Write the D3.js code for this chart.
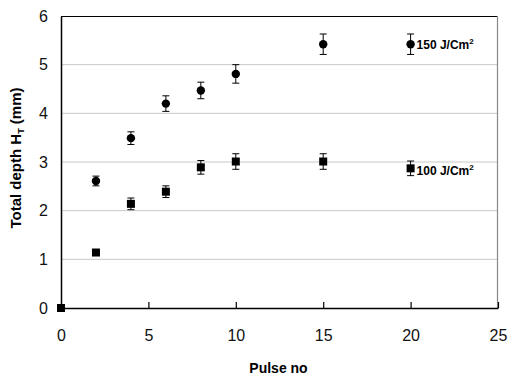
<!DOCTYPE html>
<html>
<head>
<meta charset="utf-8">
<script src="https://cdn.jsdelivr.net/npm/d3@7"></script>
<style>
  body { margin: 0; background: #fff; }
  text { font-family: "Liberation Sans", Arial, sans-serif; }
</style>
</head>
<body>
<script>
// data
var pulses150 = [2, 4, 6, 8, 10, 15, 20];
var depth150 = [2.61, 3.49, 4.20, 4.47, 4.81, 5.42, 5.42];
var err150 = [0.10, 0.13, 0.16, 0.17, 0.19, 0.21, 0.21];

var pulses100 = [0, 2, 4, 6, 8, 10, 15, 20];
var depth100 = [0, 1.14, 2.14, 2.39, 2.89, 3.01, 3.01, 2.87];
var err100 = [0, 0.03, 0.12, 0.12, 0.14, 0.16, 0.16, 0.15];

var xTicks = [0, 5, 10, 15, 20, 25];
var yTicks = [0, 1, 2, 3, 4, 5, 6];
var seriesLabels = ["150 J/Cm", "100 J/Cm"];

// set the dimensions and margins of the graph
var margin = {top: 16, right: 11, bottom: 68, left: 61},
    width = 509 - margin.left - margin.right,
    height = 376 - margin.top - margin.bottom;

var x = d3.scaleLinear().domain([0, 25]).range([0, width]);
var y = d3.scaleLinear().domain([0, 6]).range([height, 0]);

var svg = d3.select('body')
    .append('svg')
    .attr('width', 509)
    .attr('height', 376)
    .append('g')
    .attr('transform', 'translate(' + margin.left + ',' + margin.top + ')');

// gridlines
svg.selectAll('.grid')
    .data(yTicks.filter(function(d) { return d > 0 && d < 6; }))
    .enter().append('line')
    .attr('x1', 0).attr('x2', width)
    .attr('y1', function(d) { return y(d); })
    .attr('y2', function(d) { return y(d); })
    .attr('stroke', '#c8c8c8')
    .attr('stroke-width', 1);

// frame: top black, right gray
svg.append('line').attr('x1', 0).attr('x2', width).attr('y1', 0.5).attr('y2', 0.5)
    .attr('stroke', '#000').attr('stroke-width', 1.2);
svg.append('line').attr('x1', width - 0.5).attr('x2', width - 0.5).attr('y1', 0).attr('y2', height)
    .attr('stroke', '#888').attr('stroke-width', 1.2);

// x axis, ticks pointing inward
var xAxis = svg.append('g')
    .attr('transform', 'translate(0,' + height + ')')
    .call(d3.axisBottom(x).tickValues(xTicks).tickSizeInner(-6).tickSizeOuter(0).tickPadding(22));
xAxis.select('.domain').attr('stroke', '#000').attr('stroke-width', 1.5);
xAxis.selectAll('.tick line').attr('stroke', '#000').attr('stroke-width', 1.2)
    .filter(function(d) { return d === 0; }).remove();
xAxis.selectAll('text').style('font-size', '16px').attr('fill', '#111');

// y axis, no tick marks
var yAxis = svg.append('g')
    .call(d3.axisLeft(y).tickValues(yTicks).tickFormat(d3.format('d')).tickSize(0).tickPadding(13));
yAxis.select('.domain').attr('stroke', '#000').attr('stroke-width', 1.5);
yAxis.selectAll('text').style('font-size', '16px').attr('fill', '#111');

// error bars + markers
function drawSeries(xs, ys, es, shape) {
    var pts = xs.map(function(d, i) { return {x: d, y: ys[i], e: es[i]}; });
    var g = svg.append('g');
    var eb = g.selectAll('.eb').data(pts.filter(function(d) { return d.e > 0; })).enter().append('g');
    eb.append('line')
        .attr('x1', function(d) { return x(d.x); }).attr('x2', function(d) { return x(d.x); })
        .attr('y1', function(d) { return y(d.y - d.e); }).attr('y2', function(d) { return y(d.y + d.e); })
        .attr('stroke', '#000').attr('stroke-width', 1);
    [-1, 1].forEach(function(s) {
        eb.append('line')
            .attr('x1', function(d) { return x(d.x) - 3.5; }).attr('x2', function(d) { return x(d.x) + 3.5; })
            .attr('y1', function(d) { return y(d.y + s * d.e); }).attr('y2', function(d) { return y(d.y + s * d.e); })
            .attr('stroke', '#000').attr('stroke-width', 1);
    });
    if (shape === 'circle') {
        g.selectAll('.pt').data(pts).enter().append('circle')
            .attr('cx', function(d) { return x(d.x); })
            .attr('cy', function(d) { return y(d.y); })
            .attr('r', 4.2)
            .attr('fill', '#000');
    } else {
        g.selectAll('.pt').data(pts).enter().append('rect')
            .attr('x', function(d) { return x(d.x) - 4; })
            .attr('y', function(d) { return y(d.y) - 4; })
            .attr('width', 8).attr('height', 8)
            .attr('fill', '#000');
    }
}
drawSeries(pulses150, depth150, err150, 'circle');
drawSeries(pulses100, depth100, err100, 'square');

// series labels next to last point
var labelY = [depth150[depth150.length - 1], depth100[depth100.length - 1] - 0.05];
seriesLabels.forEach(function(lab, i) {
    var t = svg.append('text')
        .attr('x', x(20) + 6)
        .attr('y', y(labelY[i]) + 4.5)
        .style('font-size', '12px')
        .style('font-weight', 'bold')
        .text(lab);
    t.append('tspan').attr('dy', -5).style('font-size', '8px').text('2');
});

// axis titles
svg.append('text')
    .attr('x', width / 2 - 1)
    .attr('y', height + 65)
    .attr('text-anchor', 'middle')
    .style('font-size', '14px')
    .style('font-weight', 'bold')
    .text('Pulse no');

var yt = svg.append('text')
    .attr('transform', 'rotate(-90)')
    .attr('x', -height / 2 + 4)
    .attr('y', -40)
    .attr('text-anchor', 'middle')
    .style('font-size', '15px')
    .style('font-weight', 'bold');
yt.append('tspan').text('Total depth H');
yt.append('tspan').attr('dy', 3).style('font-size', '9px').text('T');
yt.append('tspan').attr('dy', -3).text(' (mm)');
</script>
</body>
</html>
